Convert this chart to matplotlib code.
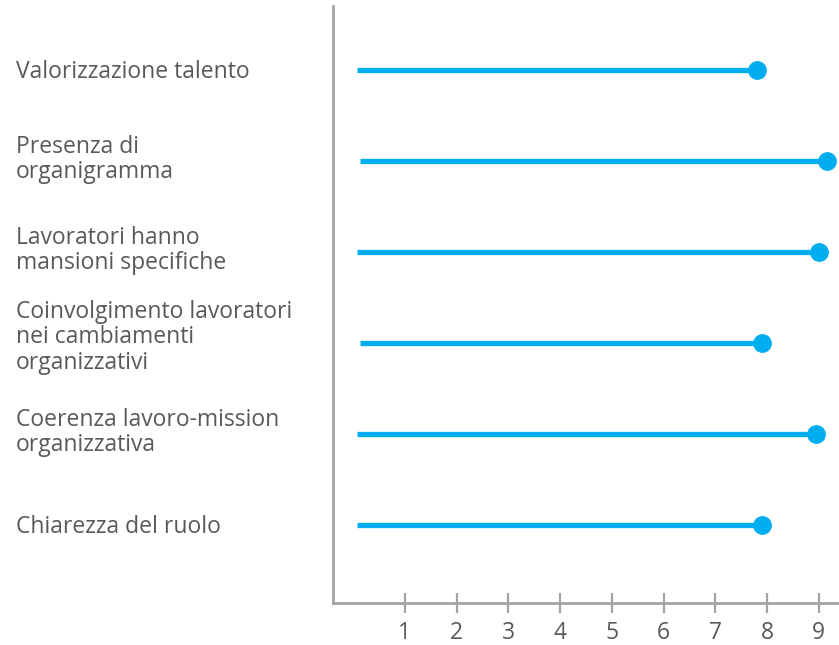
import matplotlib.pyplot as plt
from matplotlib import transforms

# categories, bottom to top
labels = [
    "Chiarezza del ruolo",
    "Coerenza lavoro-mission\norganizzativa",
    "Coinvolgimento lavoratori\nnei cambiamenti\norganizzativi",
    "Lavoratori hanno\nmansioni specifiche",
    "Presenza di\norganigramma",
    "Valorizzazione talento",
]
start = [0.08, 0.08, 0.14, 0.08, 0.14, 0.08]
score = [7.9, 8.95, 7.9, 9.0, 9.15, 7.8]
ticks = [1, 2, 3, 4, 5, 6, 7, 8, 9]

blue = "#00aeef"
grey = "#a3a3a3"
text_col = "#595959"

plt.rcParams["font.family"] = ["Open Sans", "DejaVu Sans"]

W, H = 839, 645
fig = plt.figure(figsize=(W / 100, H / 100), dpi=100)
ax = fig.add_axes([333 / W, 1 - 603 / H, 1 - 333 / W, (603 - 6) / H])

y = list(range(len(labels)))
ax.hlines(y, start, score, color=blue, lw=3.8, zorder=2)
ax.plot(score, y, "o", color=blue, ms=12.5, zorder=3, clip_on=False)

ax.set_xlim(-0.39, 9.39)
ax.set_ylim(-0.857, 5.7)

for s in ["top", "right"]:
    ax.spines[s].set_visible(False)
for s in ["left", "bottom"]:
    ax.spines[s].set_color(grey)
    ax.spines[s].set_linewidth(2)

ax.set_xticks(ticks)
ax.set_xticklabels([str(t) for t in ticks])
ax.tick_params(axis="x", direction="inout", length=14, width=1.6, color=grey,
               labelsize=16.5, labelcolor=text_col, pad=6)
ax.set_yticks([])

# category names left-aligned near the figure edge
trans = transforms.blended_transform_factory(fig.transFigure, ax.transData)
for yi, lab in zip(y, labels):
    n = lab.count("\n") + 1
    dy = (4 * (n - 1) - 2.5) / 91
    ax.text(16 / W, yi + dy, lab, transform=trans, ha="left", va="center",
            fontsize=16.5, color=text_col, linespacing=1.08)

fig.savefig("out.png", dpi=100)
